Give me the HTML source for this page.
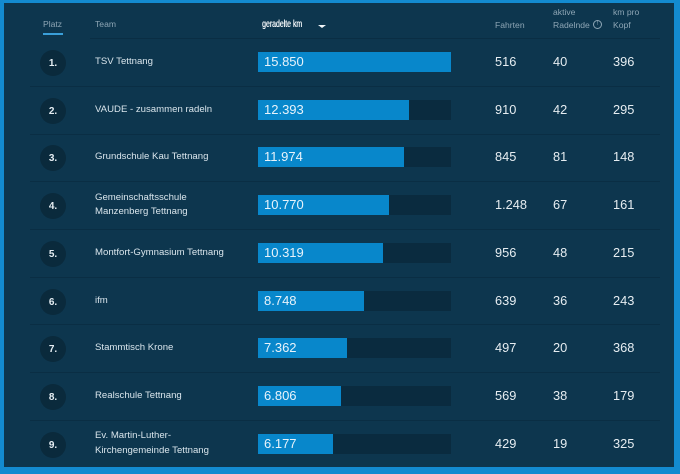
<!DOCTYPE html>
<html><head><meta charset="utf-8">
<style>
*{margin:0;padding:0;box-sizing:border-box}
html,body{width:680px;height:474px;overflow:hidden;background:#138bd0}
body{position:relative;font-family:"Liberation Sans",Arial,sans-serif}
#panel{position:absolute;left:4px;top:3px;width:670px;height:464px;background:#0d364e}
.a{position:absolute;white-space:nowrap}
.h{color:#8ea6b5;font-size:8.6px}
.sep{position:absolute;left:30px;width:630px;height:1px;background:#0a2e44}
.circ{position:absolute;left:40px;width:26px;height:26px;border-radius:50%;background:#0a2a3c;color:#e6eef3;font-weight:bold;font-size:10px;text-align:center;line-height:28px}
.team{position:absolute;left:95px;color:#d9e5ec;font-size:9.6px;line-height:14.5px}
.track{position:absolute;left:258px;width:193px;height:20px;background:#0a2b3f}
.bar{position:absolute;left:0;top:0;height:20px;background:#0887cb;color:#e8f3fb;font-size:13px;line-height:20px;padding-left:6px;white-space:nowrap}
.v{position:absolute;color:#e6edf1;font-size:12.8px;line-height:16px}
</style></head><body>
<div id="panel"></div>

<div class="a h" style="left:43px;top:19px">Platz</div>
<div class="a" style="left:43px;top:33px;width:20px;height:2px;background:#3a9fd9"></div>
<div class="a h" style="left:95px;top:19px">Team</div>
<div class="a" style="left:262px;top:18px;color:#f2f6f9;font-size:10.5px;transform:scaleX(0.66);transform-origin:left top;text-shadow:0.4px 0 0 #f2f6f9">geradelte km</div>
<div class="a" style="left:318px;top:25px;width:0;height:0;border-left:4px solid transparent;border-right:4px solid transparent;border-top:3px solid #f2f6f9"></div>
<div class="a h" style="left:495px;top:20px">Fahrten</div>
<div class="a h" style="left:553px;top:7px">aktive</div>
<div class="a h" style="left:553px;top:20px">Radelnde</div>
<div class="a" style="left:593px;top:20px;width:9px;height:9px;border:1px solid #8ea6b5;border-radius:50%;color:#8ea6b5;font-size:6px;line-height:7px;text-align:center">!</div>
<div class="a h" style="left:613px;top:7px">km pro</div>
<div class="a h" style="left:613px;top:20px">Kopf</div>
<div class="sep" style="top:38px;left:90px;width:570px"></div>

<!-- rows -->
<div class="circ" style="top:50px">1.</div>
<div class="team" style="top:55px">TSV Tettnang</div>
<div class="track" style="top:52px"><div class="bar" style="width:193px">15.850</div></div>
<div class="v" style="left:495px;top:54px">516</div><div class="v" style="left:553px;top:54px">40</div><div class="v" style="left:613px;top:54px">396</div>
<div class="sep" style="top:86px"></div>

<div class="circ" style="top:97.7px">2.</div>
<div class="team" style="top:102.7px">VAUDE - zusammen radeln</div>
<div class="track" style="top:99.7px"><div class="bar" style="width:151px">12.393</div></div>
<div class="v" style="left:495px;top:101.7px">910</div><div class="v" style="left:553px;top:101.7px">42</div><div class="v" style="left:613px;top:101.7px">295</div>
<div class="sep" style="top:133.6px"></div>

<div class="circ" style="top:145.4px">3.</div>
<div class="team" style="top:150.4px">Grundschule Kau Tettnang</div>
<div class="track" style="top:147.4px"><div class="bar" style="width:146px">11.974</div></div>
<div class="v" style="left:495px;top:149.4px">845</div><div class="v" style="left:553px;top:149.4px">81</div><div class="v" style="left:613px;top:149.4px">148</div>
<div class="sep" style="top:181.3px"></div>

<div class="circ" style="top:193.1px">4.</div>
<div class="team" style="top:190.6px">Gemeinschaftsschule<br>Manzenberg Tettnang</div>
<div class="track" style="top:195.1px"><div class="bar" style="width:131px">10.770</div></div>
<div class="v" style="left:495px;top:197.1px">1.248</div><div class="v" style="left:553px;top:197.1px">67</div><div class="v" style="left:613px;top:197.1px">161</div>
<div class="sep" style="top:229px"></div>

<div class="circ" style="top:240.8px">5.</div>
<div class="team" style="top:245.8px">Montfort-Gymnasium Tettnang</div>
<div class="track" style="top:242.8px"><div class="bar" style="width:125px">10.319</div></div>
<div class="v" style="left:495px;top:244.8px">956</div><div class="v" style="left:553px;top:244.8px">48</div><div class="v" style="left:613px;top:244.8px">215</div>
<div class="sep" style="top:276.7px"></div>

<div class="circ" style="top:288.5px">6.</div>
<div class="team" style="top:293.5px">ifm</div>
<div class="track" style="top:290.5px"><div class="bar" style="width:106px">8.748</div></div>
<div class="v" style="left:495px;top:292.5px">639</div><div class="v" style="left:553px;top:292.5px">36</div><div class="v" style="left:613px;top:292.5px">243</div>
<div class="sep" style="top:324.4px"></div>

<div class="circ" style="top:336.2px">7.</div>
<div class="team" style="top:341.2px">Stammtisch Krone</div>
<div class="track" style="top:338.2px"><div class="bar" style="width:89px">7.362</div></div>
<div class="v" style="left:495px;top:340.2px">497</div><div class="v" style="left:553px;top:340.2px">20</div><div class="v" style="left:613px;top:340.2px">368</div>
<div class="sep" style="top:372.1px"></div>

<div class="circ" style="top:383.9px">8.</div>
<div class="team" style="top:388.9px">Realschule Tettnang</div>
<div class="track" style="top:385.9px"><div class="bar" style="width:83px">6.806</div></div>
<div class="v" style="left:495px;top:387.9px">569</div><div class="v" style="left:553px;top:387.9px">38</div><div class="v" style="left:613px;top:387.9px">179</div>
<div class="sep" style="top:419.8px"></div>

<div class="circ" style="top:431.6px">9.</div>
<div class="team" style="top:429.1px">Ev. Martin-Luther-<br>Kirchengemeinde Tettnang</div>
<div class="track" style="top:433.6px"><div class="bar" style="width:75px">6.177</div></div>
<div class="v" style="left:495px;top:435.6px">429</div><div class="v" style="left:553px;top:435.6px">19</div><div class="v" style="left:613px;top:435.6px">325</div>

</body></html>
